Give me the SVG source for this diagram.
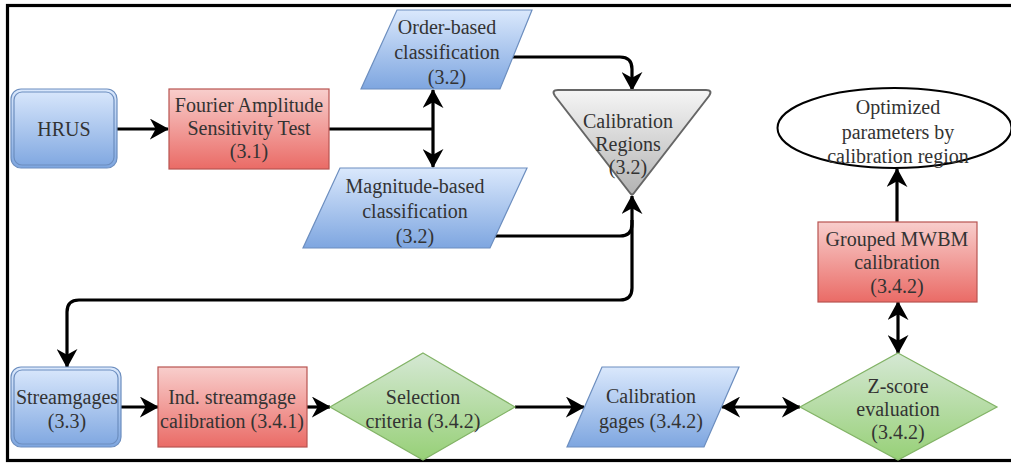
<svg xmlns="http://www.w3.org/2000/svg" width="1011" height="464" viewBox="0 0 1011 464">
<style>
text{font-family:'Liberation Serif','DejaVu Serif',serif;font-size:20px;fill:#333;text-anchor:middle}
.blue{fill:url(#gBlue);stroke:#6c8ebf;stroke-width:1.2}
.red{fill:url(#gRed);stroke:#b85450;stroke-width:1.2}
.green{fill:url(#gGreen);stroke:#82b366;stroke-width:1.2}
.gray{fill:url(#gGray);stroke:#666;stroke-width:2;stroke-linejoin:round}
.dbl{fill:none;stroke:#6c8ebf;stroke-width:1.2}
.c{fill:none;stroke:#000;stroke-width:3.2}
.e{marker-end:url(#ah)}
.b{marker-start:url(#ah);marker-end:url(#ah)}
</style>
<defs>
<linearGradient id="gBlue" x1="0" y1="0" x2="0" y2="1"><stop offset="0" stop-color="#dae8fc"/><stop offset="1" stop-color="#7ea6e0"/></linearGradient>
<linearGradient id="gRed" x1="0" y1="0" x2="0" y2="1"><stop offset="0" stop-color="#f8cecc"/><stop offset="1" stop-color="#ea6b66"/></linearGradient>
<linearGradient id="gGreen" x1="0" y1="0" x2="0" y2="1"><stop offset="0" stop-color="#d5e8d4"/><stop offset="1" stop-color="#97d077"/></linearGradient>
<linearGradient id="gGray" x1="0" y1="0" x2="0" y2="1"><stop offset="0" stop-color="#f5f5f5"/><stop offset="1" stop-color="#b3b3b3"/></linearGradient>
<marker id="ah" viewBox="0 0 20 22" refX="19" refY="11" markerWidth="19" markerHeight="21" markerUnits="userSpaceOnUse" orient="auto-start-reverse">
<path d="M0,0 L20,11 L0,22 L6,11 z" fill="#000"/>
</marker>
</defs>
<rect x="7.5" y="5.5" width="1012" height="455" fill="#fff" stroke="#000" stroke-width="3.2"/>

<g id="connectors">
<path class="c e" d="M117,129 L168,129"/>
<path class="c" d="M329,129 L433,129"/>
<path class="c e" d="M433,129 L433,90"/>
<path class="c e" d="M433,129 L433,167"/>
<path class="c e" d="M513,57 L620,57 Q632,57 632,69 L632,90"/>
<path class="c e" d="M492,236 L620,236 Q632,236 632,224 L632,196"/>
<path class="c e" d="M632,220 L632,288 Q632,300 620,300 L79,300 Q67,300 67,312 L67,367"/>
<path class="c e" d="M121,407 L158,407"/>
<path class="c e" d="M307,407 L330,407"/>
<path class="c e" d="M515,407 L584,407"/>
<path class="c b" d="M722,407 L800,407"/>
<path class="c b" d="M898,302 L898,353"/>
<path class="c e" d="M897,222 L897,169"/>
</g>

<g id="hrus">
<rect class="blue" x="11" y="89" width="106" height="79" rx="10"/>
<rect class="dbl" x="14" y="92" width="100" height="73" rx="8"/>
<text x="64" y="136">HRUS</text>
</g>

<g id="fast">
<rect class="red" x="169" y="89" width="160" height="80"/>
<text x="249" y="112">Fourier Amplitude</text>
<text x="249" y="135">Sensitivity Test</text>
<text x="249" y="158">(3.1)</text>
</g>

<g id="order">
<polygon class="blue" points="397,10 532,10 500,89 361,89"/>
<text x="447" y="34">Order-based</text>
<text x="447" y="59">classification</text>
<text x="447" y="84">(3.2)</text>
</g>

<g id="magnitude">
<polygon class="blue" points="340,168 527,168 490,248 303,248"/>
<text x="415" y="193">Magnitude-based</text>
<text x="415" y="218">classification</text>
<text x="415" y="243">(3.2)</text>
</g>

<g id="regions">
<path class="gray" d="M558,90 L706,90 Q713,90 709,96 L634,193 Q632,196 630,193 L555,96 Q551,90 558,90 z"/>
<text x="628" y="128">Calibration</text>
<text x="628" y="151">Regions</text>
<text x="628" y="174">(3.2)</text>
</g>

<g id="optimized">
<ellipse cx="894.5" cy="128" rx="117" ry="40" fill="#fff" stroke="#000" stroke-width="2"/>
<text x="898" y="114">Optimized</text>
<text x="898" y="139">parameters by</text>
<text x="898" y="163">calibration region</text>
</g>

<g id="mwbm">
<rect class="red" x="818" y="222" width="159" height="80"/>
<text x="897" y="246">Grouped MWBM</text>
<text x="897" y="269">calibration</text>
<text x="897" y="293">(3.4.2)</text>
</g>

<g id="streamgages">
<rect class="blue" x="11" y="367" width="110" height="80" rx="10"/>
<rect class="dbl" x="14" y="370" width="104" height="74" rx="8"/>
<text x="67" y="404">Streamgages</text>
<text x="67" y="428">(3.3)</text>
</g>

<g id="ind">
<rect class="red" x="158" y="367" width="149" height="80"/>
<text x="232" y="404">Ind. streamgage</text>
<text x="232" y="428">calibration (3.4.1)</text>
</g>

<g id="selection">
<polygon class="green" points="423,353 515,407 423,460 330,407"/>
<text x="423" y="404">Selection</text>
<text x="423" y="428">criteria (3.4.2)</text>
</g>

<g id="calgages">
<polygon class="blue" points="602,367 739,367 704,447 567,447"/>
<text x="651" y="403">Calibration</text>
<text x="651" y="428">gages (3.4.2)</text>
</g>

<g id="zscore">
<polygon class="green" points="898,353 997,407 898,460 800,407"/>
<text x="898" y="393">Z-score</text>
<text x="898" y="416">evaluation</text>
<text x="898" y="439">(3.4.2)</text>
</g>
</svg>
